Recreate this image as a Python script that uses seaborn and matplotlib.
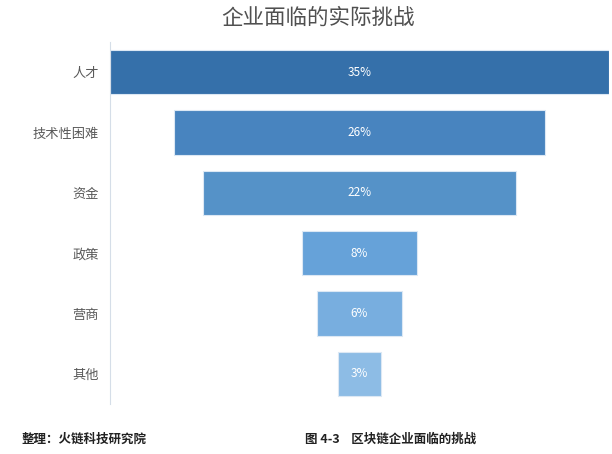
import matplotlib
matplotlib.use('Agg')
import matplotlib.pyplot as plt
import seaborn as sns
import pandas as pd

# data
categories = ['人才', '技术性困难', '资金', '政策', '营商', '其他']
shares = [35, 26, 22, 8, 6, 3]
bar_colors = ['#3570AA', '#4884BF', '#5592C8', '#66A2D9', '#78AEDF', '#8DBCE5']

title = '企业面临的实际挑战'
source_note = '整理：火链科技研究院'
figure_note = '图 4-3    区块链企业面临的挑战'

sns.set_theme(style='white')
plt.rcParams['font.family'] = ['Noto Sans CJK SC', 'DejaVu Sans']

df = pd.DataFrame({'category': categories, 'share': shares})

fig = plt.figure(figsize=(6.12, 4.54), dpi=100)
ax = fig.add_axes([110 / 612, 1 - 404 / 454, 499 / 612, 362 / 454])

sns.barplot(data=df, x='share', y='category', hue='category', palette=bar_colors,
            saturation=1, orient='h', width=0.74, legend=False, ax=ax,
            edgecolor='#DCE8F4', linewidth=0.8)

# funnel: centre each bar on the widest one
top = max(shares)
for patch, v in zip(ax.patches, shares):
    patch.set_x((top - v) / 2)
    ax.text(top / 2, patch.get_y() + patch.get_height() / 2, f'{v}%',
            ha='center', va='center', color='white', fontsize=8.5)

ax.set_xlim(0, top)
ax.set_xticks([])
ax.set_xlabel('')
ax.set_ylabel('')
ax.tick_params(axis='y', length=0, pad=8, labelsize=9.5, labelcolor='#595959')
for s in ['top', 'right', 'bottom']:
    ax.spines[s].set_visible(False)
ax.spines['left'].set_color('#D5DEE8')
ax.spines['left'].set_linewidth(0.8)

fig.text(318 / 612, 1 - 18 / 454, title, ha='center', va='center',
         fontsize=15.5, color='#505050', fontweight='light')
fig.text(22 / 612, 1 - 439 / 454, source_note, ha='left', va='center',
         fontsize=9, fontweight='bold', color='#222222')
fig.text(305 / 612, 1 - 439 / 454, figure_note, ha='left', va='center',
         fontsize=9, fontweight='bold', color='#222222')

fig.savefig('out.png', dpi=100)
